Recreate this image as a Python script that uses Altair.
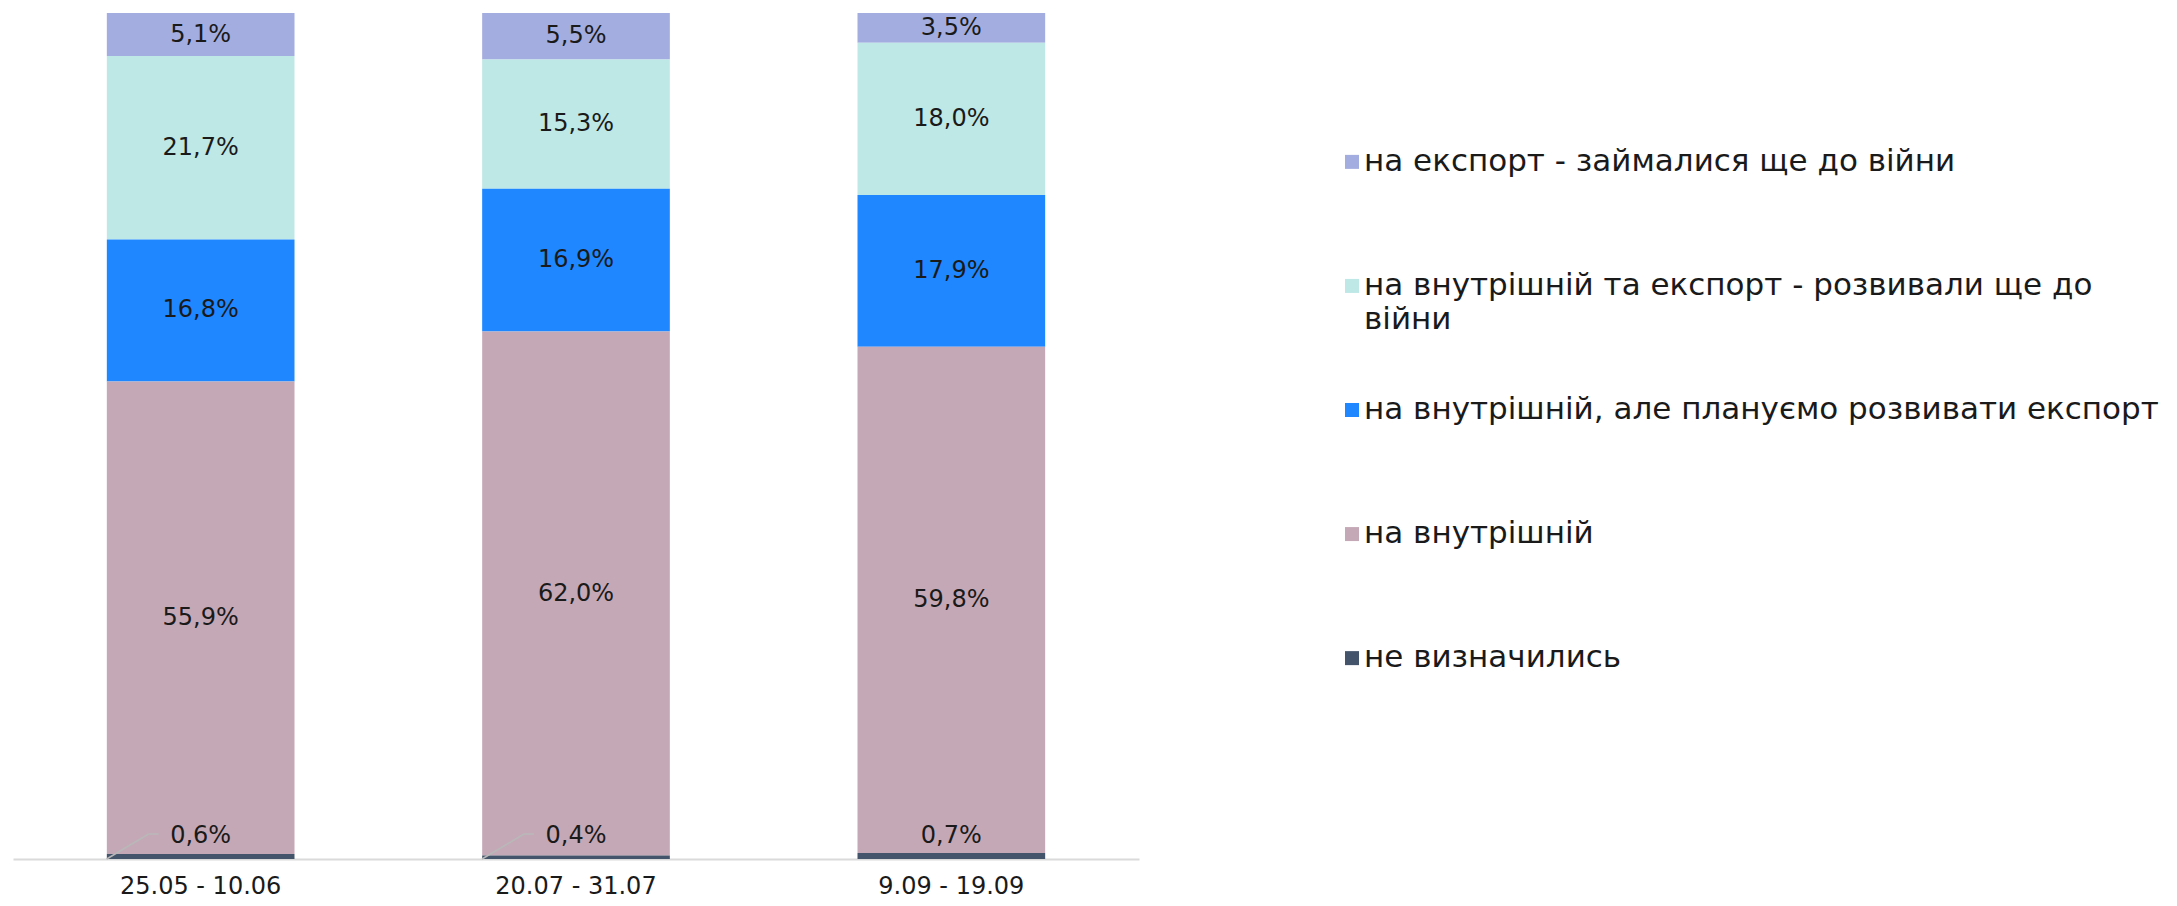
import altair as alt
import pandas as pd

periods = ["25.05 - 10.06", "20.07 - 31.07", "9.09 - 19.09"]
categories = [
    "на експорт - займалися ще до війни",
    "на внутрішній та експорт - розвивали ще до війни",
    "на внутрішній, але плануємо розвивати експорт",
    "на внутрішній",
    "не визначились",
]
export_prewar = [5.1, 5.5, 3.5]
both_prewar = [21.7, 15.3, 18.0]
domestic_plan = [16.8, 16.9, 17.9]
domestic = [55.9, 62.0, 59.8]
undecided = [0.6, 0.4, 0.7]
series = [export_prewar, both_prewar, domestic_plan, domestic, undecided]
colors = ["#A3ADDF", "#BEE8E6", "#1F87FF", "#C5A8B6", "#44546A"]
legend_line1 = [
    "на експорт - займалися ще до війни",
    "на внутрішній та експорт - розвивали ще до",
    "на внутрішній, але плануємо розвивати експорт",
    "на внутрішній",
    "не визначились",
]
legend_line2 = ["", "війни", "", "", ""]
leader = [True, True, False]

rows = []
for ci, cat in enumerate(categories):
    for pi, p in enumerate(periods):
        rows.append({
            "period": p,
            "category": cat,
            "value": series[ci][pi],
            "order": ci,
            "leader": bool(leader[pi] and ci == 4),
        })
df = pd.DataFrame(rows)

color_scale = alt.Scale(domain=categories, range=colors)
yscale = alt.Scale(domain=[0, 1], nice=False)

base = (
    alt.Chart(df)
    .transform_stack(
        stack="value",
        as_=["y0", "y1"],
        groupby=["period"],
        sort=[alt.SortField("order", order="descending")],
        offset="normalize",
    )
    .transform_calculate(
        mid="(datum.y0 + datum.y1) / 2",
        label="replace(format(datum.value, '.1f'), '.', ',') + '%'",
        zero="0",
    )
)

xenc = alt.X(
    "period:N",
    sort=periods,
    scale=alt.Scale(paddingInner=0.5, paddingOuter=0.25),
    axis=alt.Axis(
        title=None,
        labelAngle=0,
        ticks=False,
        labelFontSize=24,
        labelPadding=15,
        labelColor="#1a1a1a",
        domainColor="#DADADA",
        domainWidth=2,
    ),
)
xs = alt.X("period:N", sort=periods)

bars = base.mark_bar().encode(
    x=xenc,
    y=alt.Y("y0:Q", scale=yscale, axis=None),
    y2="y1:Q",
    color=alt.Color("category:N", scale=color_scale, legend=None),
)

labels = base.transform_filter("datum.order < 4").mark_text(
    fontSize=24, color="#1a1a1a"
).encode(x=xs, y=alt.Y("mid:Q", scale=yscale), text="label:N")

small_labels = base.transform_filter("datum.order == 4").mark_text(
    fontSize=24, color="#1a1a1a", dy=-23
).encode(x=xs, y=alt.Y("zero:Q", scale=yscale), text="label:N")

leader_diag = base.transform_filter("datum.order == 4 && datum.leader").mark_rule(
    color="#B8B8B8", strokeWidth=1.5, xOffset=-94, x2Offset=-52, y2Offset=-25
).encode(x=xs, x2="period", y=alt.Y("zero:Q", scale=yscale), y2="zero")

leader_flat = base.transform_filter("datum.order == 4 && datum.leader").mark_rule(
    color="#B8B8B8", strokeWidth=1.5, xOffset=-52, x2Offset=-42, yOffset=-25, y2Offset=-25
).encode(x=xs, x2="period", y=alt.Y("zero:Q", scale=yscale), y2="zero")

main = alt.layer(bars, labels, small_labels, leader_diag, leader_flat).properties(
    width=1126, height=846
)

ldf = pd.DataFrame({
    "category": categories,
    "line1": legend_line1,
    "line2": legend_line2,
    "idx": list(range(len(categories))),
})
ly = alt.Y(
    "idx:Q",
    axis=None,
    scale=alt.Scale(domain=[-1.2, 5.2], reverse=True, nice=False, zero=False),
)

sq = alt.Chart(ldf).mark_square(size=196, opacity=1).encode(
    x=alt.value(12),
    y=ly,
    color=alt.Color("category:N", scale=color_scale, legend=None),
)
t1 = alt.Chart(ldf).mark_text(align="left", fontSize=31, color="#1a1a1a").encode(
    x=alt.value(24), y=ly, text="line1:N"
)
t2 = alt.Chart(ldf).transform_filter("datum.line2 != ''").mark_text(
    align="left", fontSize=31, color="#1a1a1a", dy=34
).encode(x=alt.value(24), y=ly, text="line2:N")

legend = alt.layer(sq, t1, t2).properties(width=760, height=794)

chart = (
    alt.hconcat(main, legend, spacing=201)
    .properties(padding={"left": 5, "top": 4, "right": 0, "bottom": 0})
    .configure(font="DejaVu Sans")
    .configure_view(strokeWidth=0)
)

chart.save("out.html", embed_options={"renderer": "svg", "actions": False})
